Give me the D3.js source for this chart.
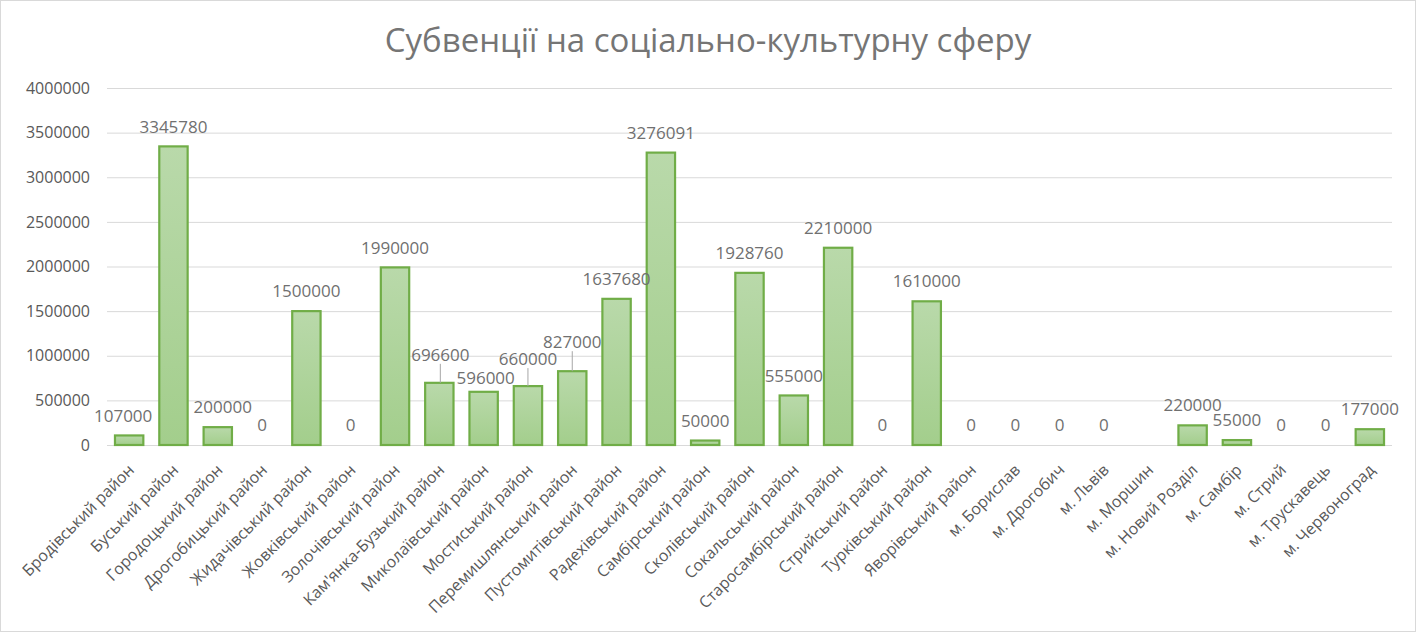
<!DOCTYPE html>
<html>
<head>
<meta charset="utf-8">
<script src="https://cdn.jsdelivr.net/npm/d3@7.9.0/dist/d3.min.js"></script>
<style>
  html, body { margin: 0; padding: 0; background: #fff; }
  svg { display: block; font-family: "Open Sans", "Noto Sans", sans-serif; }
</style>
</head>
<body>
<svg id="chart" width="1416" height="632"></svg>
<script>
// chart data
const categories = [
  "Бродівський район", "Буський район", "Городоцький район", "Дрогобицький район",
  "Жидачівський район", "Жовківський район", "Золочівський район", "Кам'янка-Бузький район",
  "Миколаївський район", "Мостиський район", "Перемишлянський район", "Пустомитівський район",
  "Радехівський район", "Самбірський район", "Сколівський район", "Сокальський район",
  "Старосамбірський район", "Стрийський район", "Турківський район", "Яворівський район",
  "м. Борислав", "м. Дрогобич", "м. Львів", "м. Моршин", "м. Новий Розділ",
  "м. Самбір", "м. Стрий", "м. Трускавець", "м. Червоноград"
];
const values = [
  107000, 3345780, 200000, 0,
  1500000, 0, 1990000, 696600,
  596000, 660000, 827000, 1637680,
  3276091, 50000, 1928760, 555000,
  2210000, 0, 1610000, 0,
  0, 0, 0, null, 220000,
  55000, 0, 0, 177000
];
const yTicks = [0, 500000, 1000000, 1500000, 2000000, 2500000, 3000000, 3500000, 4000000];
const title = "Субвенції на соціально-культурну сферу";

// hand-moved data labels in the original (dx, dy in px)
const labelNudges = {
  "Бродівський район": [-6, 0],
  "Городоцький район": [5, 0],
  "Кам'янка-Бузький район": [1, -8],
  "Миколаївський район": [2, 6],
  "Мостиський район": [0, -7],
  "Перемишлянський район": [0, -9]
};

const W = 1416, H = 632;
const plot = { left: 107, right: 1392, top: 88, bottom: 445 };

const svg = d3.select("#chart");

// outer border
svg.append("rect")
  .attr("x", 0.5).attr("y", 0.5)
  .attr("width", W - 1).attr("height", H - 1)
  .attr("fill", "#fff").attr("stroke", "#d9d9d9");

// bar gradient
const grad = svg.append("defs").append("linearGradient")
  .attr("id", "barFill").attr("x1", 0).attr("y1", 0).attr("x2", 0).attr("y2", 1);
grad.append("stop").attr("offset", "0%").attr("stop-color", "#b9d9aa");
grad.append("stop").attr("offset", "100%").attr("stop-color", "#a3ce8c");

const x = d3.scaleBand()
  .domain(categories)
  .range([plot.left, plot.right])
  .paddingInner(0.36)
  .paddingOuter(0.18);

const y = d3.scaleLinear()
  .domain([0, 4000000])
  .range([plot.bottom, plot.top]);

// title
svg.append("text")
  .attr("x", 708).attr("y", 52)
  .attr("text-anchor", "middle")
  .attr("font-size", 33)
  .attr("fill", "#757575")
  .text(title);

// y axis + gridlines
const yAxis = svg.append("g")
  .attr("transform", `translate(${plot.left},0)`)
  .call(d3.axisLeft(y)
    .tickValues(yTicks)
    .tickFormat(d3.format("d"))
    .tickSize(-(plot.right - plot.left))
    .tickPadding(17));
yAxis.select(".domain").remove();
yAxis.selectAll(".tick line").attr("stroke", "#d9d9d9").attr("stroke-width", 1);
yAxis.selectAll(".tick text")
  .attr("font-size", 16)
  .attr("font-family", "Open Sans, sans-serif")
  .attr("fill", "#595959");

// x axis labels
const xAxis = svg.append("g")
  .attr("transform", `translate(0,${plot.bottom})`)
  .call(d3.axisBottom(x).tickSize(0));
xAxis.select(".domain").remove();
xAxis.selectAll(".tick text")
  .attr("font-size", 16)
  .attr("font-family", "Open Sans, sans-serif")
  .attr("fill", "#595959")
  .attr("text-anchor", "end")
  .attr("x", 0).attr("y", 0).attr("dy", 0)
  .attr("transform", "translate(6,26) rotate(-45)");

// bars
const data = categories.map((c, i) => ({ name: c, value: values[i] }));
const shown = data.filter(d => d.value !== null);

svg.append("g")
  .selectAll("rect")
  .data(shown)
  .join("rect")
  .attr("x", d => x(d.name))
  .attr("y", d => y(d.value))
  .attr("width", x.bandwidth())
  .attr("height", d => y(0) - y(d.value))
  .attr("fill", "url(#barFill)")
  .attr("stroke", "#70ad47")
  .attr("stroke-width", 2.2)
  .attr("visibility", d => d.value > 0 ? "visible" : "hidden");

// data labels
const labels = svg.append("g");
shown.forEach(d => {
  const [dx, dy] = labelNudges[d.name] || [0, 0];
  const cx = x(d.name) + x.bandwidth() / 2;
  const top = y(d.value);
  const lx = cx + dx;
  const ly = top - 20 + dy;
  if (dy < -5) {
    labels.append("line")
      .attr("x1", lx).attr("x2", lx)
      .attr("y1", ly + 9).attr("y2", top)
      .attr("stroke", "#a6a6a6").attr("stroke-width", 1);
  }
  labels.append("text")
    .attr("x", lx).attr("y", ly)
    .attr("dy", "0.36em")
    .attr("text-anchor", "middle")
    .attr("font-size", 17)
    .attr("fill", "#707070")
    .text(d.value);
});
</script>
</body>
</html>
